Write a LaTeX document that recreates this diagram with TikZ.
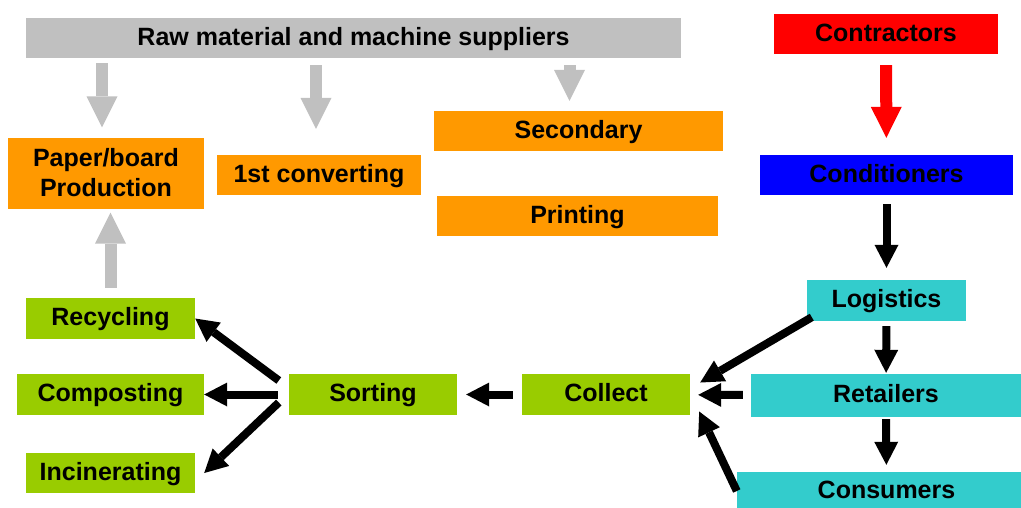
\documentclass[tikz,border=0pt]{standalone}
\usepackage{xcolor}
\usepackage{fontspec}
\setmainfont{Liberation Sans}
\usepackage{tikz}
\usetikzlibrary{arrows.meta}
\definecolor{supplygray}{HTML}{C0C0C0}
\definecolor{convorange}{HTML}{FF9900}
\definecolor{contractred}{HTML}{FF0000}
\definecolor{condblue}{HTML}{0000FF}
\definecolor{tradecyan}{HTML}{33CCCC}
\definecolor{wastegreen}{HTML}{99CC00}

\begin{document}
\begin{tikzpicture}[x=1pt, y=-1pt,
    stage/.style={rectangle, inner sep=0pt, text=black, align=center,
                  font=\fontsize{25}{30}\selectfont\bfseries},
    oneline/.style={text height=19pt, text depth=5pt},
    flow/.style={-{Triangle[width=24pt, length=23pt, line width=0pt]},
                 line width=8pt, color=black},
    supply/.style={-{Triangle[width=31pt, length=31pt, line width=0pt]},
                   line width=12pt, color=supplygray}
  ]
    \useasboundingbox (0,0) rectangle (1021,507);

    % Suppliers and converting
    \node[stage, oneline, fill=supplygray, minimum width=655pt, minimum height=40pt] (raw) at (353.5,38) {Raw material and machine suppliers};
    \node[stage, fill=convorange, minimum width=196pt, minimum height=71pt] (paper) at (106,173) {Paper/board\\Production};
    \node[stage, oneline, fill=convorange, minimum width=204pt, minimum height=40pt] (conv) at (319,175) {1st converting};
    \node[stage, oneline, fill=convorange, minimum width=289pt, minimum height=40pt] (secondary) at (578.5,131) {Secondary};
    \node[stage, oneline, fill=convorange, minimum width=281pt, minimum height=40pt] (printing) at (577.5,216) {Printing};

    % Distribution chain
    \node[stage, oneline, fill=contractred, minimum width=224pt, minimum height=40pt] (contractors) at (886,34) {Contractors};
    \node[stage, oneline, fill=condblue, minimum width=253pt, minimum height=40pt] (conditioners) at (886.5,175) {Conditioners};
    \node[stage, oneline, fill=tradecyan, minimum width=159pt, minimum height=41pt] (logistics) at (886.5,300.5) {Logistics};
    \node[stage, oneline, fill=tradecyan, minimum width=270pt, minimum height=43pt] (retailers) at (886,395.5) {Retailers};
    \node[stage, oneline, fill=tradecyan, minimum width=299pt, minimum height=38pt] (consumers) at (886.5,491) {Consumers};

    % End of life
    \node[stage, oneline, fill=wastegreen, minimum width=168pt, minimum height=41pt] (collect) at (606,394.5) {Collect};
    \node[stage, oneline, fill=wastegreen, minimum width=168pt, minimum height=41pt] (sorting) at (373,394.5) {Sorting};
    \node[stage, oneline, fill=wastegreen, minimum width=169pt, minimum height=41pt] (recycling) at (110.5,318.5) {Recycling};
    \node[stage, oneline, fill=wastegreen, minimum width=187pt, minimum height=41pt] (composting) at (110.5,394.5) {Composting};
    \node[stage, oneline, fill=wastegreen, minimum width=169pt, minimum height=40pt] (incinerating) at (110.5,473) {Incinerating};

    % Supply arrows
    \draw[supply, shorten <=5pt, shorten >=10pt] ([xshift=-4pt]paper.north |- raw.south) -- ([xshift=-4pt]paper.north);
    \draw[supply, shorten <=7pt, shorten >=26pt] ([xshift=-3pt]conv.north |- raw.south) -- ([xshift=-3pt]conv.north);
    \draw[supply, shorten <=7pt, shorten >=10pt] ([xshift=-9pt]secondary.north |- raw.south) -- ([xshift=-9pt]secondary.north);
    \draw[supply, shorten <=10pt, shorten >=4pt] (recycling.north) -- (recycling.north |- paper.south);
    \draw[supply, color=contractred, shorten <=11pt, shorten >=17pt] (contractors) -- (conditioners);

    % Down the chain
    \draw[flow, shorten <=9pt, shorten >=12pt] (conditioners) -- (logistics);
    \draw[flow, shorten <=5pt, shorten >=1pt] (logistics) -- (retailers);
    \draw[flow, shorten <=2pt, shorten >=7pt] (retailers) -- (consumers);

    % Back to collection
    \draw[flow] ([shift={(5,-4)}]logistics.south west) -- ([shift={(10,-12)}]collect.east);
    \draw[flow, shorten <=8pt, shorten >=8pt] (retailers) -- (collect);
    \draw[flow] (consumers.west) -- ([shift={(9,17)}]collect.east);
    \draw[flow, shorten <=9pt, shorten >=9pt] (collect) -- (sorting);

    % Sorting outlets
    \draw[flow] ([shift={(-10,-14)}]sorting.west) -- (recycling.east);
    \draw[flow, shorten <=11pt] (sorting) -- (composting);
    \draw[flow] ([shift={(-10,8)}]sorting.west) -- ([xshift=9pt]incinerating.east);
  \end{tikzpicture}
\end{document}
